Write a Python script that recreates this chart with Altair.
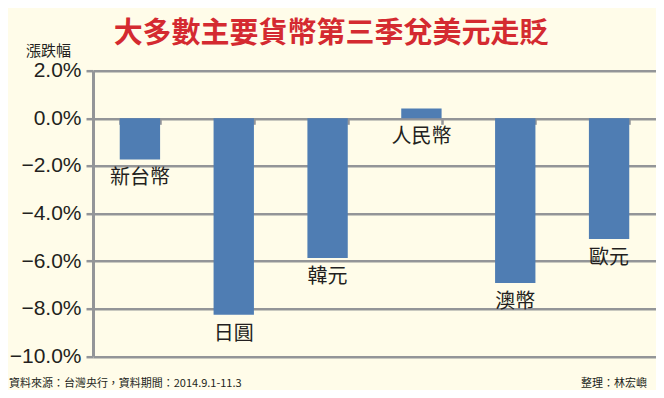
import altair as alt
import pandas as pd

# ---- data ----
currencies = ["新台幣", "日圓", "韓元", "人民幣", "澳幣", "歐元"]
changes = [-1.73, -8.25, -5.87, 0.41, -6.92, -5.07]
y_ticks = [-10, -8, -6, -4, -2, 0, 2]

title_text = "大多數主要貨幣第三季兌美元走貶"
y_title = "漲跌幅"
source_note = "資料來源：台灣央行，資料期間：2014.9.1-11.3"
editor_note = "整理：林宏嶼"

df = pd.DataFrame({"cat": currencies, "val": changes})

W, H = 563, 285.6
GRAY = "#939598"
BLUE = "#4f7db3"
DARK = "#231f20"
CJK = "Noto Sans CJK TC"

x_enc = alt.X(
    "cat:N",
    sort=currencies,
    scale=alt.Scale(paddingInner=0.57, paddingOuter=0.285),
    axis=alt.Axis(
        orient="bottom", offset=-H * 10 / 12, labels=False, title=None,
        domain=False, grid=False, tickBand="extent", tickSize=6,
        tickWidth=2.5, tickColor=GRAY,
    ),
)
y_enc = alt.Y(
    "val:Q",
    scale=alt.Scale(domain=[-10, 2], nice=False, zero=True),
    axis=alt.Axis(
        values=y_ticks, labelExpr="format(datum.value, '.1f') + '%'",
        labelFont="Liberation Sans", labelFontSize=21, labelColor=DARK,
        labelPadding=5, tickSize=7, tickWidth=2.5, tickColor=GRAY,
        domainColor=GRAY, domainWidth=3, grid=True, gridColor=GRAY,
        gridWidth=2.5, title=None,
    ),
)

base = alt.Chart(df)
bars = base.mark_bar(color=BLUE).encode(x=x_enc, y=y_enc)

labels = base.transform_calculate(
    ly="min(datum.val, 0)"
).mark_text(
    baseline="top", dy=9, font=CJK, fontSize=20, color=DARK
).encode(x=alt.X("cat:N", sort=currencies), y=alt.Y("ly:Q"), text="cat:N")

one = alt.Data(values=[{}])

ytitle = alt.Chart(one).mark_text(
    text=y_title, font=CJK, fontSize=15, color=DARK,
    align="left", baseline="middle",
).encode(x=alt.value(-67), y=alt.value(-19.5))

foot_l = alt.Chart(one).mark_text(
    text=source_note, font=CJK, fontSize=11, color=DARK,
    align="left", baseline="middle",
).encode(x=alt.value(-84), y=alt.value(313.5))

foot_r = alt.Chart(one).mark_text(
    text=editor_note, font=CJK, fontSize=11, color=DARK,
    align="right", baseline="middle",
).encode(x=alt.value(554), y=alt.value(313.5))

chart = alt.layer(bars, labels, ytitle, foot_l, foot_r).properties(
    width=W, height=H,
    title=alt.TitleParams(
        text=title_text, font=CJK, fontSize=29, fontWeight="bold",
        color="#d42a30", anchor="middle", frame="group", dx=-43.5, dy=9,
    ),
    autosize=alt.AutoSizeParams(type="none"),
    padding={"left": 85, "top": 62.7, "right": 0, "bottom": 34},
    background="#fffce9",
).configure_view(stroke=None)

chart.save("out.html", embed_options={"renderer": "svg", "actions": False})
